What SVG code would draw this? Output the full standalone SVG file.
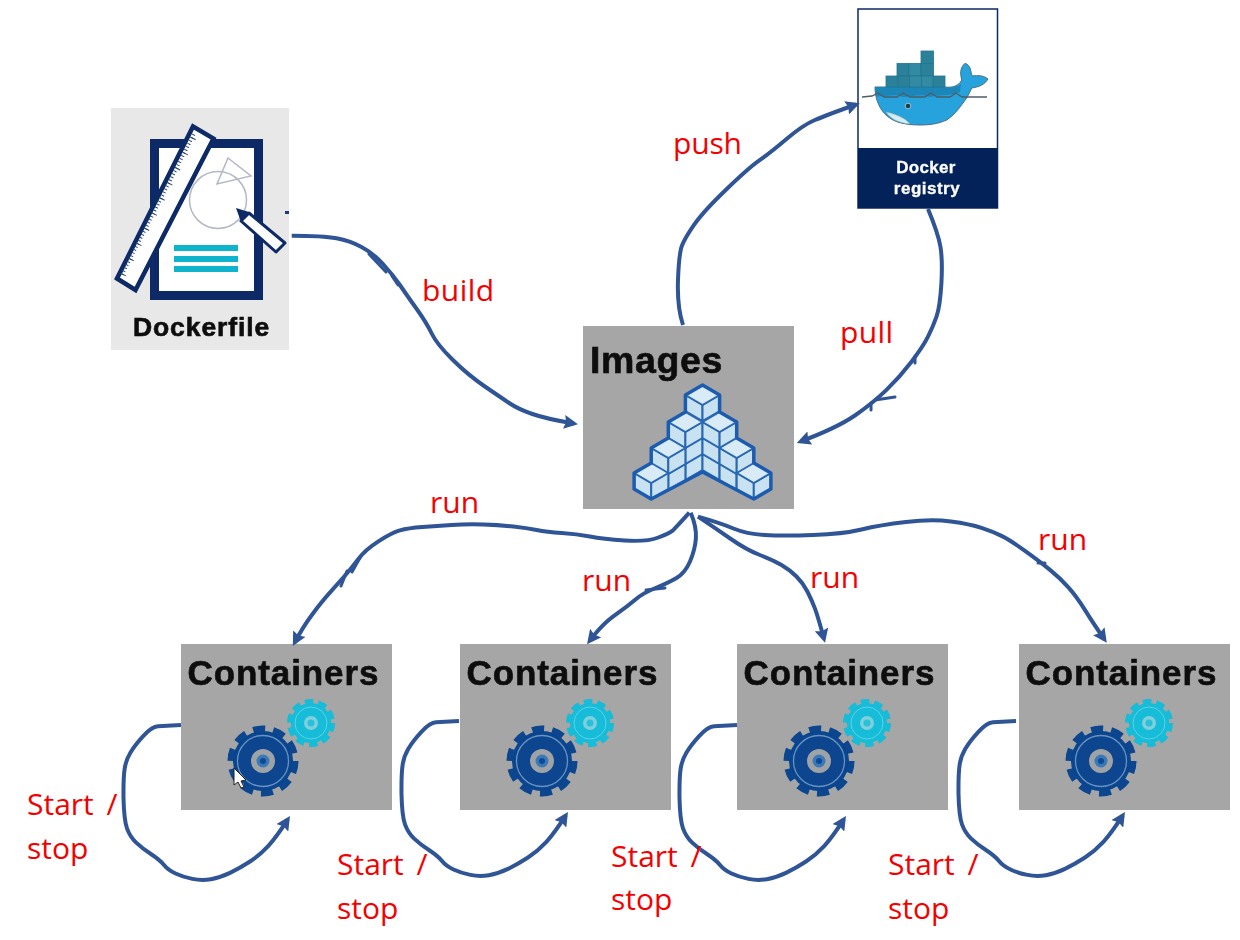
<svg xmlns="http://www.w3.org/2000/svg" width="1240" height="940" viewBox="0 0 1240 940">
<style>
.conn{fill:none;stroke:#2f5597;stroke-width:4;stroke-linecap:butt;stroke-linejoin:round}
.spur{fill:none;stroke:#2f5597;stroke-width:3;stroke-linecap:round}
.arr{marker-end:url(#ah)}
.lbl{font-family:"Open Sans","Noto Sans",sans-serif;font-size:30px;word-spacing:5px;fill:#f40000}
.tile{fill:#a6a6a6}
.head{font-family:"Liberation Sans",Arial,sans-serif;font-weight:bold;fill:#0a0a0a;stroke:#0a0a0a;stroke-width:0.6}
.cube-top{fill:#d9ebf7;stroke:#2a68b4;stroke-width:2;stroke-linejoin:round}
.cube-side{fill:#c8e2f2;stroke:#2a68b4;stroke-width:2;stroke-linejoin:round}
.soft{filter:url(#soft)}
</style>
<defs>
<filter id="soft" x="-5%" y="-5%" width="110%" height="110%"><feGaussianBlur stdDeviation="0.5"/></filter>
<marker id="ah" markerUnits="userSpaceOnUse" markerWidth="16" markerHeight="14" refX="10" refY="7" orient="auto"><path d="M0,0L14,7L0,14L2,7Z" fill="#2f5597"/></marker>
<g id="faces">
<path class="cube-side" d="M-17.100,10V26L0,36V20Z"/>
<path class="cube-side" d="M17.100,10V26L0,36V20Z"/>
</g>
<g id="cube">
<use href="#faces"/>
<path class="cube-top" d="M0,0L17.100,10L0,20L-17.100,10Z"/>
</g>
<g id="gearset">
<circle cx="82" cy="117" r="30" fill="#07458f"/>
<circle cx="82" cy="117" r="32" fill="none" stroke="#07458f" stroke-width="7" stroke-dasharray="12 8.100"/>
<circle cx="82" cy="117" r="25.500" fill="none" stroke="#6a93c0" stroke-width="1.300"/>
<circle cx="82" cy="117" r="12" fill="#9fa3a6"/>
<circle cx="82" cy="117" r="6.500" fill="#3a78b8"/>
<circle cx="82" cy="117" r="3" fill="#0c4c96"/>
<circle cx="130" cy="79" r="20" fill="#13bcd8"/>
<circle cx="130" cy="79" r="21.500" fill="none" stroke="#13bcd8" stroke-width="5" stroke-dasharray="8.500 5"/>
<circle cx="130" cy="79" r="16" fill="none" stroke="#5fd2e4" stroke-width="1"/>
<circle cx="130" cy="79" r="7" fill="#7fcfdc"/>
<circle cx="130" cy="79" r="3.500" fill="#2cc0d9"/>
</g>
<g id="containerArt">
<rect class="tile" width="211" height="166"/>
<text class="head soft" x="6.500" y="41" font-size="35" letter-spacing="0.900">Containers</text>
<use href="#gearset" class="soft"/>
</g>
</defs>
<rect width="1240" height="940" fill="#ffffff"/>

<g id="dockerfile">
<rect x="111" y="108" width="178" height="242" fill="#e8e8e9"/>
<g class="soft">
<rect x="154.500" y="143.500" width="104" height="152" fill="#fff" stroke="#0b2a66" stroke-width="9"/>
<rect x="174" y="245" width="64" height="6" fill="#10b4cc"/>
<rect x="174" y="256" width="64" height="6" fill="#10b4cc"/>
<rect x="174" y="266" width="64" height="6" fill="#10b4cc"/>
<circle cx="218" cy="200" r="28.500" fill="#fff" stroke="#b4b8c6" stroke-width="1.500"/>
<path d="M228,158L251,176L217,184Z" fill="none" stroke="#b4b8c6" stroke-width="1.500"/>
<path d="M276,252L285,243L249,213L241,221Z" fill="#fff" stroke="#0b2a66" stroke-width="3" stroke-linejoin="round"/>
<path d="M236,208L249,212L241,222Z" fill="#0b2a66"/>
<path d="M117,278.500L135.500,290L213.500,138.500L193,126.500Z" fill="#fff" stroke="#0b2a66" stroke-width="4.500"/>
<path d="M122,274.500L194,134" fill="none" stroke="#2b4a80" stroke-width="3.500" stroke-dasharray="1 2.400"/>
<path d="M123,275L195,134.500" fill="none" stroke="#2b4a80" stroke-width="6" stroke-dasharray="1 16"/>
</g>
<text class="head soft" x="133" y="336" font-size="26.500" letter-spacing="0.900">Dockerfile</text>
<rect x="285" y="211" width="4" height="3" fill="#1f3a7a"/>
</g>

<g id="registry">
<rect x="858" y="9" width="139.500" height="199" fill="#fff" stroke="#0b2a66" stroke-width="1.500"/>
<rect x="858" y="148" width="140" height="60" fill="#04225a"/>
<g class="soft">
<path d="M945,87C952,88 959,86 961.700,80C961,77 960.500,74 960.700,71.700C961,68 963,65 965,63.300C968,64.500 969,66 970,68C971,71 971.500,74 972,76C975,75.500 978,75.500 981.700,76C984,76.500 986,77.500 988,79C986,82 984,84 981.700,85C978,87 975,87.500 971.700,88C969,94 967,98 963,103C958,110 953,116 946.700,120C938,124 929,125 920,125C911,125 903,124 896.700,121.700C890,119 885,115 881.700,110C877,103 875,95 875,87Z" fill="#27a2dc" stroke="#456e84" stroke-width="1"/>
<path d="M875,87H945C952,88 958,87 961,84L960,92C948,97 938,94 930,97C920,93 912,97 903,97C895,93 885,97 876,96Z" fill="#1c86b8"/>
<path d="M862,97L872,96L878,93L884,97H897L903,93L910,97H925L931,93L937,97H950L956,93L962,97H987" stroke="#4e5e64" stroke-width="1.300" fill="none"/>
<path d="M886,112C892,113 905,117 910,124C897,123 890,118 886,112Z" fill="#d6edf2" stroke="#7fa7b3" stroke-width="0.600"/>
<circle cx="908" cy="106" r="2.800" fill="#1b3a4c" stroke="#b9d5de" stroke-width="0.800"/>
<g fill="#2a8199" stroke="#22758e" stroke-width="0.800">
<rect x="921" y="51" width="12.500" height="12.500"/>
<rect x="897" y="63.500" width="12" height="12.500"/><rect x="909" y="63.500" width="12" height="12.500" fill="#318ba3"/><rect x="921" y="63.500" width="12.500" height="12.500"/>
<rect x="886" y="76" width="11.800" height="11"/><rect x="897.800" y="76" width="11.800" height="11"/><rect x="909.600" y="76" width="11.800" height="11" fill="#318ba3"/><rect x="921.400" y="76" width="11.800" height="11" fill="#318ba3"/><rect x="933.200" y="76" width="11.800" height="11"/>
</g>
<text x="926" y="173" text-anchor="middle" font-family="'Liberation Sans',Arial,sans-serif" font-weight="bold" font-size="17" letter-spacing="0.300" stroke="#fff" stroke-width="0.300" fill="#fff">Docker</text>
<text x="927" y="194" text-anchor="middle" font-family="'Liberation Sans',Arial,sans-serif" font-weight="bold" font-size="17" letter-spacing="0.500" stroke="#fff" stroke-width="0.300" fill="#fff">registry</text>
</g>
</g>

<g id="images">
<rect class="tile" x="583" y="326" width="211" height="183"/>
<text class="head soft" x="590" y="373" font-size="37.500" letter-spacing="0.600">Images</text>
<g class="soft">
<use href="#faces" x="702.500" y="433"/><use href="#faces" x="702.500" y="417"/><use href="#faces" x="702.500" y="401"/><use href="#cube" x="702.500" y="385"/>
<use href="#faces" x="685.400" y="444"/><use href="#faces" x="685.400" y="428"/><use href="#cube" x="685.400" y="412"/>
<use href="#faces" x="719.600" y="444"/><use href="#faces" x="719.600" y="428"/><use href="#cube" x="719.600" y="412"/>
<use href="#faces" x="668.300" y="454"/><use href="#cube" x="668.300" y="438"/>
<use href="#faces" x="736.700" y="454"/><use href="#cube" x="736.700" y="438"/>
<use href="#cube" x="651.200" y="463"/>
<use href="#cube" x="753.800" y="463"/>
<path d="M702.500,385L719.600,395V412L736.700,422V438L753.800,448V463L770.900,473V489L753.800,499L702.500,472L651.200,499L634.100,489V473L651.200,463V448L668.300,438V422L685.400,412V395Z" fill="none" stroke="#1d5cb0" stroke-width="3.500" stroke-linejoin="round"/>
</g>
</g>

<g id="containers-1"><use href="#containerArt" x="181" y="644"/></g>
<g id="containers-2"><use href="#containerArt" x="460" y="644"/></g>
<g id="containers-3"><use href="#containerArt" x="737" y="644"/></g>
<g id="containers-4"><use href="#containerArt" x="1019" y="644"/></g>
<path id="cursor" d="M234,768V785L238,782L241,788L244,787L241,781L246,780Z" fill="#fff" stroke="#222" stroke-width="1"/>

<g id="connectors">
<path class="conn arr" d="M291.700,235.700Q323,235.700 336.500,238.200Q350,240.700 361.500,246.900Q373,253 383,264Q393,275 399.900,285Q406.700,295 416.700,309Q426.700,323 431.700,333.500Q436.700,344 452.400,359.500Q468,375 484.900,386.500Q501.700,398 509.900,403.500Q518,409 532.400,414Q546.700,419 574,423.500"/>
<path class="spur" d="M369,254L386,272M392,276L398,285"/>
<path class="conn arr" d="M683,325Q677,306.700 678,279.900Q679,253 682,245.500Q685,238 694,224.900Q703,211.700 726.500,189.200Q750,166.700 760,159.900Q770,153 786.500,139Q803,125 814.900,120Q826.700,115 856,104.500"/>
<path class="conn arr" d="M928,209Q938,233 940.400,246.500Q942.700,260 941.400,283.400Q940,306.700 936.500,316.700Q933,326.700 928,336.700Q923,346.700 911.500,361.700Q900,376.700 886.500,389.900Q873,403 854.900,415.500Q836.700,428 800.500,441.500"/>
<path class="spur" d="M875,400L895,397M871,403L871,410M915,356L915,363"/>
<path class="conn arr" d="M689.300,512.700Q676.700,526.700 673.400,529.900Q670,533 658.400,537.500Q646.700,542 624.900,540.500Q603,539 589.900,536.500Q576.700,534 561.700,533Q546.700,532 536.700,530Q526.700,528 513.400,526.500Q500,525 483.400,524.500Q466.700,524 451.700,525Q436.700,526 422.400,527Q408,528 399.900,530.400Q391.700,532.700 378.400,541.400Q365,550 358.400,559Q351.700,568 344.200,576.500Q336.700,585 329.200,593.400Q321.700,601.700 312.400,614.200Q303,626.700 294.700,642.500"/>
<path class="spur" d="M361,556L352,572M347,571L341,586"/>
<path class="conn arr" d="M690.700,512.700Q696.700,526.700 695.900,538.400Q695,550 690,561.500Q685,573 676.500,578Q668,583 655.500,588Q643,593 634.900,599.900Q626.700,606.700 617.400,613.400Q608,620 602.400,625.900Q596.700,631.700 589.500,641"/>
<path class="spur" d="M646,590L665,588"/>
<path class="conn arr" d="M698,516.700Q715,528 730.900,539Q746.700,550 759.900,555Q773,560 781.500,565Q790,570 796.500,576.500Q803,583 807.400,591.500Q811.700,600 814.900,608.400Q818,616.700 824,639"/>
<path class="conn arr" d="M698,516.700Q720,523 733.400,528.500Q746.700,534 764.900,535Q783,536 813,535Q843,534 861.500,529.500Q880,525 905.900,522Q931.700,519 950.900,521.500Q970,524 981.500,527.900Q993,531.700 1001.500,535.900Q1010,540 1025,550.900Q1040,561.700 1050,569.900Q1060,578 1068.400,587.400Q1076.700,596.700 1084.900,609.900Q1093,623 1104.500,639.500"/>
<path class="spur" d="M1038,563L1045,563"/>
<path class="conn arr" d="M181,725L158,726.300Q151.700,726.700 143.400,735.900Q135,745 130.500,752.500Q126,760 124.700,768.400Q123.300,776.700 123.500,798Q124,820 127,828.400Q130,836.700 135.900,842.400Q141.700,848 150.900,854Q160,860 164,865Q168,870 175.500,873.500Q183,877 192.400,878.900Q201.700,880.700 210.900,879.200Q220,877.700 230,872.900Q240,868 250,861.500Q260,855 268.400,845.900Q276.700,836.700 287.800,819.400"/>
<path class="conn arr" transform="translate(278,-4)" d="M181,725L158,726.300Q151.700,726.700 143.400,735.900Q135,745 130.500,752.500Q126,760 124.700,768.400Q123.300,776.700 123.500,798Q124,820 127,828.400Q130,836.700 135.900,842.400Q141.700,848 150.900,854Q160,860 164,865Q168,870 175.500,873.500Q183,877 192.400,878.900Q201.700,880.700 210.900,879.200Q220,877.700 230,872.900Q240,868 250,861.500Q260,855 268.400,845.900Q276.700,836.700 287.800,819.400"/>
<path class="conn arr" transform="translate(556,0)" d="M181,725L158,726.300Q151.700,726.700 143.400,735.900Q135,745 130.500,752.500Q126,760 124.700,768.400Q123.300,776.700 123.500,798Q124,820 127,828.400Q130,836.700 135.900,842.400Q141.700,848 150.900,854Q160,860 164,865Q168,870 175.500,873.500Q183,877 192.400,878.900Q201.700,880.700 210.900,879.200Q220,877.700 230,872.900Q240,868 250,861.500Q260,855 268.400,845.900Q276.700,836.700 287.800,819.400"/>
<path class="conn arr" transform="translate(835,-4)" d="M181,725L158,726.300Q151.700,726.700 143.400,735.900Q135,745 130.500,752.500Q126,760 124.700,768.400Q123.300,776.700 123.500,798Q124,820 127,828.400Q130,836.700 135.900,842.400Q141.700,848 150.900,854Q160,860 164,865Q168,870 175.500,873.500Q183,877 192.400,878.900Q201.700,880.700 210.900,879.200Q220,877.700 230,872.900Q240,868 250,861.500Q260,855 268.400,845.900Q276.700,836.700 287.800,819.400"/>
</g>

<g id="labels">
<text class="lbl" x="422" y="301" textLength="72">build</text>
<text class="lbl" x="673" y="154" textLength="69">push</text>
<text class="lbl" x="840" y="343" textLength="53">pull</text>
<text class="lbl" x="430" y="513">run</text>
<text class="lbl" x="582" y="591">run</text>
<text class="lbl" x="810" y="588">run</text>
<text class="lbl" x="1038" y="550">run</text>
<text class="lbl" x="27" y="815">Start /</text><text class="lbl" x="27" y="859">stop</text>
<text class="lbl" x="337" y="875">Start /</text><text class="lbl" x="337" y="919">stop</text>
<text class="lbl" x="611" y="867">Start /</text><text class="lbl" x="611" y="910">stop</text>
<text class="lbl" x="888" y="875">Start /</text><text class="lbl" x="888" y="919">stop</text>
</g>
</svg>
